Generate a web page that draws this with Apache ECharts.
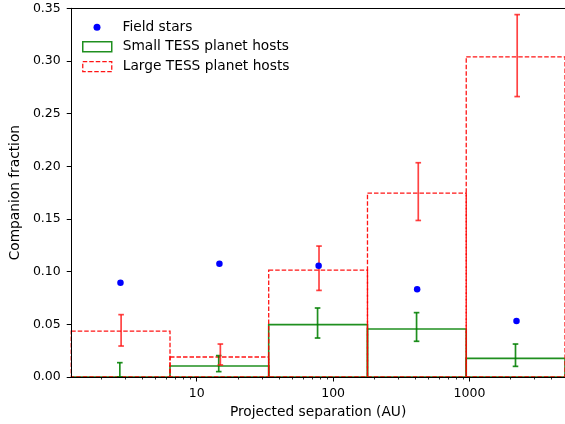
<!DOCTYPE html>
<html>
<head>
<meta charset="utf-8">
<script src="https://cdn.jsdelivr.net/npm/echarts@6/dist/echarts.min.js"></script>
<style>
html,body{margin:0;padding:0;background:#fff;}
#chart{width:565px;height:424px;}
</style>
</head>
<body>
<div id="chart"></div>
<script>
// ---- data ----
const binEdges = [1.202, 6.37, 33.7, 178.6, 946, 5012];

const fieldX = [2.76, 14.67, 78.3, 413, 2210];
const fieldY = [0.0895, 0.1076, 0.1057, 0.0832, 0.0531];

const smallVal = [0.0, 0.0104, 0.0497, 0.0455, 0.0177];
const smallX   = [2.73, 14.5, 76.9, 409, 2173];
const smallLo  = [0.0, 0.0051, 0.0370, 0.0339, 0.0101];
const smallHi  = [0.0136, 0.0203, 0.0655, 0.0611, 0.0313];

const largeVal = [0.0436, 0.0190, 0.1015, 0.1745, 0.3039];
const largeX   = [2.79, 14.9, 78.8, 421, 2236];
const largeLo  = [0.0294, 0.0114, 0.0822, 0.1486, 0.2662];
const largeHi  = [0.0592, 0.0313, 0.1243, 0.2034, 0.3440];

const xMajorTicks = [10, 100, 1000];
const xMajorLabels = ['10', '100', '1000'];
const xMinorTicks = [2,3,4,5,6,7,8,9,20,30,40,50,60,70,80,90,200,300,400,500,600,700,800,900,2000,3000,4000,5000];
const yTickLabels = ['0.00','0.05','0.10','0.15','0.20','0.25','0.30','0.35'];

const names = ['Field stars', 'Small TESS planet hosts', 'Large TESS planet hosts'];

// ---- build ----
const FONT = 'DejaVu Sans';
const RED = 'rgba(255,0,0,0.92)';
const RED_ERR = 'rgba(255,20,20,0.8)';
const GREEN = 'rgba(0,128,0,0.88)';
const GREEN_ERR = 'rgba(0,128,0,0.88)';

function binData(vals) {
  return vals.map((v, i) => [binEdges[i], binEdges[i + 1], v]);
}
function errData(xs, lo, hi) {
  return xs.map((x, i) => [x, lo[i], hi[i]]);
}
function histRender(stroke, dash) {
  return function (params, api) {
    const p0 = api.coord([api.value(0), api.value(2)]);
    const p1 = api.coord([api.value(1), 0]);
    return {
      type: 'rect',
      shape: {x: p0[0], y: p0[1], width: p1[0] - p0[0], height: p1[1] - p0[1]},
      style: {fill: 'none', stroke: stroke, lineWidth: dash ? 1.3 : 1.6, lineDash: dash || null}
    };
  };
}
function errRender(stroke) {
  return function (params, api) {
    const x = api.value(0);
    const top = api.coord([x, api.value(2)]);
    const bot = api.coord([x, api.value(1)]);
    const cw = 2.8;
    const st = {stroke: stroke, lineWidth: 1.7};
    return {
      type: 'group',
      children: [
        {type: 'line', shape: {x1: top[0], y1: top[1], x2: bot[0], y2: bot[1]}, style: st},
        {type: 'line', shape: {x1: top[0] - cw, y1: top[1], x2: top[0] + cw, y2: top[1]}, style: st},
        {type: 'line', shape: {x1: bot[0] - cw, y1: bot[1], x2: bot[0] + cw, y2: bot[1]}, style: st}
      ]
    };
  };
}

const xmin = binEdges[0], xmax = binEdges[binEdges.length - 1];

const option = {
  animation: false,
  backgroundColor: '#fff',
  textStyle: {fontFamily: FONT},
  grid: {left: 70.7, right: 0, top: 8.3, bottom: 46.3, containLabel: false},
  legend: [
    {
      data: [{name: names[0], icon: 'circle', itemStyle: {color: '#0000ff', opacity: 1}}],
      left: 93.5, top: 20.3, padding: 0, itemWidth: 29, itemHeight: 7,
      textStyle: {fontFamily: FONT, fontSize: 13.75, color: '#000', padding: [0, 0, 0, 6]},
      selectedMode: false
    },
    {
      data: [
        {name: names[1], icon: 'rect', itemStyle: {color: 'rgba(0,0,0,0)', borderColor: GREEN, borderWidth: 1.5}},
        {name: names[2], icon: 'rect', itemStyle: {color: 'rgba(0,0,0,0)', borderColor: RED, borderWidth: 1.3, borderType: [4.5, 2]}}
      ],
      orient: 'vertical', left: 82, top: 39.7, padding: 0, itemWidth: 29, itemHeight: 10, itemGap: 6,
      textStyle: {fontFamily: FONT, fontSize: 13.75, color: '#000', padding: [0, 0, 0, 6]},
      selectedMode: false
    }
  ],
  xAxis: [
    {
      type: 'log', logBase: 10, min: xmin, max: xmax, position: 'bottom', z: 10,
      name: 'Projected separation (AU)', nameLocation: 'middle', nameGap: 28,
      nameTextStyle: {fontFamily: FONT, fontSize: 13.75, color: '#000'},
      axisLine: {show: true, lineStyle: {color: '#000', width: 1}},
      axisTick: {show: true, length: 4.5, inside: false, lineStyle: {color: '#000', width: 1}, customValues: xMajorTicks},
      axisLabel: {show: true, margin: 10, fontFamily: FONT, fontSize: 12.5, color: '#000',
        customValues: xMajorTicks,
        formatter: function (v) { const i = xMajorTicks.indexOf(Math.round(v)); return i >= 0 ? xMajorLabels[i] : ''; }},
      splitLine: {show: false}, minorTick: {show: false}
    },
    {
      type: 'log', logBase: 10, min: xmin, max: xmax, position: 'bottom', z: 10,
      axisLine: {show: false},
      axisTick: {show: true, length: 2.5, inside: false, lineStyle: {color: '#000', width: 0.8}, customValues: xMinorTicks},
      axisLabel: {show: false},
      splitLine: {show: false}
    },
    {
      type: 'log', logBase: 10, min: xmin, max: xmax, position: 'top', z: 10,
      axisLine: {show: true, lineStyle: {color: '#000', width: 1}},
      axisTick: {show: false}, axisLabel: {show: false}, splitLine: {show: false}
    }
  ],
  yAxis: {
    type: 'value', min: 0, max: 0.35, interval: 0.05, z: 10,
    name: 'Companion fraction', nameLocation: 'middle', nameGap: 41, nameRotate: 90,
    nameTextStyle: {fontFamily: FONT, fontSize: 13.75, color: '#000'},
    axisLine: {show: true, lineStyle: {color: '#000', width: 1}},
    axisTick: {show: true, length: 4.5, inside: false, lineStyle: {color: '#000', width: 1}},
    axisLabel: {margin: 10.5, fontFamily: FONT, fontSize: 12.5, color: '#000',
      formatter: function (v) { return yTickLabels[Math.round(v / 0.05)]; }},
    splitLine: {show: false}
  },
  series: [
    {
      name: names[1], type: 'custom', xAxisIndex: 0, renderItem: histRender(GREEN, null),
      encode: {x: [0, 1], y: 2}, data: binData(smallVal), z: 2, clip: false
    },
    {
      name: names[2], type: 'custom', xAxisIndex: 0, renderItem: histRender(RED, [4.5, 2]),
      encode: {x: [0, 1], y: 2}, data: binData(largeVal), z: 3, clip: false
    },
    {
      name: names[1] + ' err', type: 'custom', xAxisIndex: 0, renderItem: errRender(GREEN_ERR),
      encode: {x: 0, y: [1, 2]}, data: errData(smallX, smallLo, smallHi), z: 4
    },
    {
      name: names[2] + ' err', type: 'custom', xAxisIndex: 0, renderItem: errRender(RED_ERR),
      encode: {x: 0, y: [1, 2]}, data: errData(largeX, largeLo, largeHi), z: 4
    },
    {
      name: names[0], type: 'scatter', xAxisIndex: 0, symbol: 'circle', symbolSize: 6.5,
      itemStyle: {color: '#0000ff', opacity: 1}, data: fieldX.map((x, i) => [x, fieldY[i]]), z: 5
    }
  ]
};

const chart = echarts.init(document.getElementById('chart'), null, {renderer: 'canvas'});
chart.setOption(option);
</script>
</body>
</html>
